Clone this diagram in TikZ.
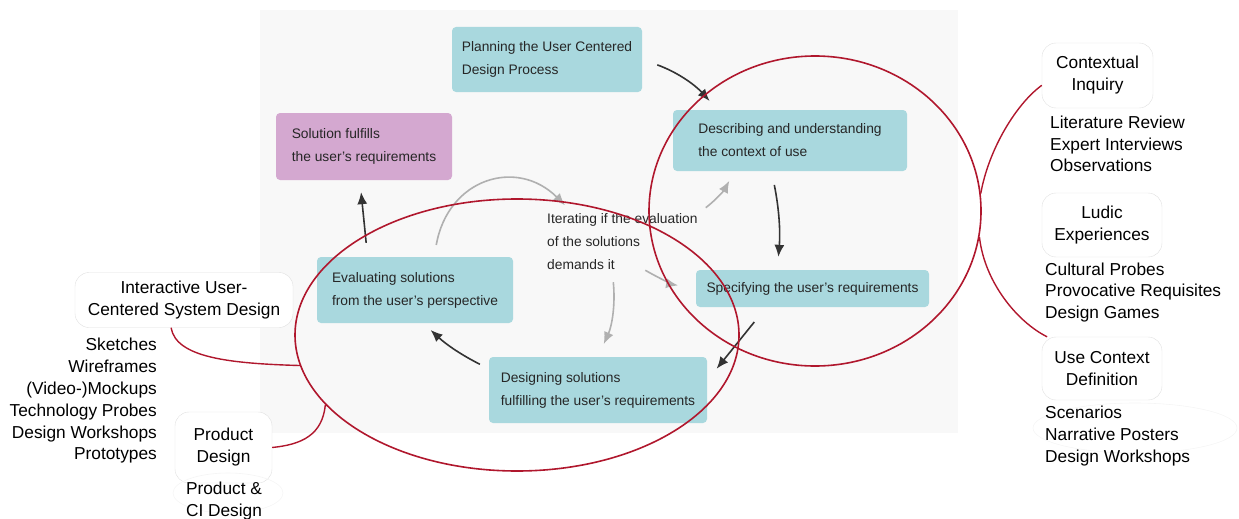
\documentclass[tikz,border=0pt]{standalone}
\usepackage{fontspec}
\setmainfont{Liberation Sans}
\usepackage{tikz}
\usetikzlibrary{arrows.meta,shapes.geometric}

\definecolor{phasecol}{HTML}{A9D8DE}
\definecolor{goalcol}{HTML}{D4A8D0}
\definecolor{ringcol}{HTML}{B0172D}
\definecolor{flowcol}{HTML}{333333}
\definecolor{itercol}{HTML}{B0B0B0}
\definecolor{bgcol}{HTML}{F8F8F8}

\begin{document}
\begin{tikzpicture}[
        x=1pt, y=-1pt,
        phase/.style={
            rectangle,
            rounded corners=4pt,
            fill=phasecol,
            inner sep=0pt,
            align=left,
            text=black!85,
            font=\fontsize{13.8}{23}\selectfont
        },
        goal/.style={phase, fill=goalcol},
        note/.style={inner sep=0pt, align=left, text=black!85, font=\fontsize{13.8}{23}\selectfont},
        method/.style={
            rectangle,
            rounded corners=14pt,
            draw=black!12,
            fill=white,
            inner sep=0pt,
            align=center,
            font=\fontsize{17.3}{22}\selectfont
        },
        techlist/.style={inner sep=0pt, font=\fontsize{17.3}{21.8}\selectfont},
        ring/.style={ellipse, draw=ringcol, line width=1.6pt, inner sep=0pt},
        flow/.style={-{Latex[length=12pt,width=10pt]}, draw=flowcol, line width=1.6pt},
        iterflow/.style={flow, draw=itercol},
        link/.style={draw=ringcol, line width=1.4pt}
    ]
        \useasboundingbox (0,0) rectangle (1239,519);
        \fill[bgcol] (260,10) rectangle (958,433);

        % Process steps
        \node[phase, minimum width=190, minimum height=65] (plan) at (547,59.5) {Planning the User Centered\\Design Process};
        \node[phase, minimum width=234, minimum height=61] (desc) at (790,140.5) {Describing and understanding\\the context of use};
        \node[phase, minimum width=233, minimum height=37] (spec) at (812.5,288.5) {Specifying the user's requirements};
        \node[phase, minimum width=218, minimum height=66] (des) at (598,390) {Designing solutions\\fulfilling the user's requirements};
        \node[phase, minimum width=196, minimum height=66] (eval) at (415,290) {Evaluating solutions\\from the user's perspective};
        \node[goal, minimum width=176, minimum height=67] (sol) at (364,146.5) {Solution fulfills\\the user's requirements};
        \node[note, anchor=west] (iter) at (547,242) {Iterating if the evaluation\\of the solutions\\demands it};

        % Main cycle
        \draw[flow, shorten <=16pt, shorten >=12pt] (plan.east) to[bend left=14] (desc.157);
        \draw[flow, shorten <=14pt, shorten >=13pt] (desc.239) to[bend left=8] (spec.152);
        \draw[flow, shorten <=19pt, shorten >=15pt] (spec.202) -- (des.5);
        \draw[flow, shorten <=10pt, shorten >=10pt] (des.169) to[bend left=8] (eval.284);
        \draw[flow, shorten <=14pt, shorten >=12pt] (eval.145) -- (sol.263);

        % Iteration
        \draw[iterflow, shorten <=12pt, shorten >=12pt] (eval.60) to[out=80, in=135, looseness=1.4] (iter.150);
        \draw[iterflow, shorten <=10pt, shorten >=11pt] (iter.north east) to[bend right=12] (desc.209);
        \draw[iterflow, shorten >=18pt] (iter.-51) to[bend right=10] (spec.west);
        \draw[iterflow, shorten <=12pt, shorten >=14pt] (iter.-110) to[bend left=15] (des.north);

        % Method clusters
        \node[ring, minimum width=444, minimum height=272] (evalring) at (517,335) {};
        \node[ring, minimum width=332, minimum height=310] (ctxring) at (815,211) {};

        % Left methods
        \node[method, minimum width=218, minimum height=55] (iucsd) at (184,300) {Interactive User-\\Centered System Design};
        \node[techlist, anchor=east, align=right] (iucsdlist) at (157,401) {Sketches\\Wireframes\\(Video-)Mockups\\Technology Probes\\Design Workshops\\Prototypes};
        \node[method, minimum width=97, minimum height=71] (pd) at (223.5,447.5) {Product\\Design};
        \draw[black!4, line width=0.6pt] (228,493) ellipse (55 and 20);
        \node[techlist, align=center] (pdlist) at (224,501) {Product \&\\CI Design};

        % Right methods
        \node[method, minimum width=111, minimum height=65] (ci) at (1097.5,75.5) {Contextual\\Inquiry};
        \node[techlist, anchor=west, align=left] (cilist) at (1050,144) {Literature Review\\Expert Interviews\\Observations};
        \node[method, minimum width=120, minimum height=64] (ludic) at (1102,225) {Ludic\\Experiences};
        \node[techlist, anchor=west, align=left] (ludiclist) at (1045,292.5) {Cultural Probes\\Provocative Requisites\\Design Games};
        \node[method, minimum width=120, minimum height=63] (ucd) at (1102,368.5) {Use Context\\Definition};
        \draw[black!4, line width=0.6pt] (1135,428) ellipse (102 and 25);
        \node[techlist, anchor=west, align=left] (ucdlist) at (1045,436) {Scenarios\\Narrative Posters\\Design Workshops};

        % Links to the clusters
        \draw[link] (iucsd.245) .. controls +(5,30) and +(-70,-2) .. (evalring.188);
        \draw[link] (pd.east) .. controls +(30,-3) and +(-3,30) .. (evalring.200);
        \draw[link] (ctxring.6) .. controls +(8,-45) and +(-25,18) .. (ci.190);
        \draw[link] (ctxring.-9) .. controls +(5,45) and +(-30,-15) .. (ucd.150);
    \end{tikzpicture}
\end{document}
